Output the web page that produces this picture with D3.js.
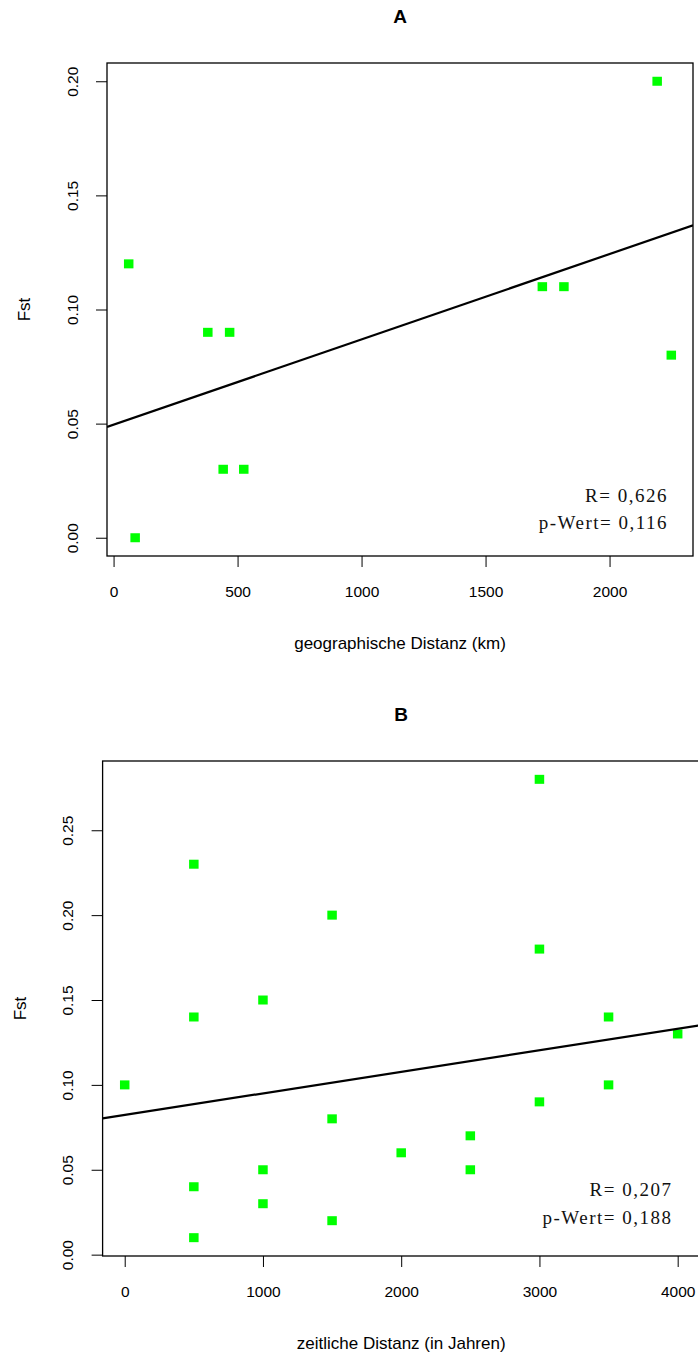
<!DOCTYPE html>
<meta charset="utf-8">
<style>
  body { margin: 0; background: #fff; }
  .tick text { font-family: "Liberation Sans", Arial, sans-serif; font-size: 15.5px; fill: #000; }
  .lab { font-family: "Liberation Sans", Arial, sans-serif; font-size: 17px; fill: #000; }
  .ttl { font-family: "Liberation Sans", Arial, sans-serif; font-size: 19px; font-weight: bold; fill: #000; }
  .stat { font-family: "Liberation Serif", "Times New Roman", serif; font-size: 19px; letter-spacing: 1.5px; fill: #111; }
</style>
<body>
<svg id="chart" width="698" height="1354"></svg>
<script src="https://cdnjs.cloudflare.com/ajax/libs/d3/7.8.5/d3.min.js"></script>
<script>
// panel A: geographische Distanz
var geoDist = [61, 380, 468, 442, 525, 87, 2192, 1729, 1816, 2249];
var geoFst  = [0.12, 0.09, 0.09, 0.03, 0.03, 0.00, 0.20, 0.11, 0.11, 0.08];
var geoFit  = [0.0495, 3.74e-5];            // intercept, slope
var geoXTicks = [0, 500, 1000, 1500, 2000];
var geoYTicks = [0, 0.05, 0.10, 0.15, 0.20];
var geoStats = ["R= 0,626", "p-Wert= 0,116"];

// panel B: zeitliche Distanz
var timeDist = [0, 500, 500, 500, 500, 1000, 1000, 1000, 1500, 1500, 1500, 2000, 2500, 2500, 3000, 3000, 3000, 3500, 3500, 4000];
var timeFst  = [0.10, 0.23, 0.14, 0.04, 0.01, 0.15, 0.05, 0.03, 0.20, 0.08, 0.02, 0.06, 0.07, 0.05, 0.28, 0.18, 0.09, 0.14, 0.10, 0.13];
var timeFit  = [0.0823, 1.27e-5];
var timeXTicks = [0, 1000, 2000, 3000, 4000];
var timeYTicks = [0, 0.05, 0.10, 0.15, 0.20, 0.25];
var timeStats = ["R= 0,207", "p-Wert= 0,188"];

var svg = d3.select("#chart");

// R style range: data extent padded by 4% on each side
function rDomain(v) {
  var e = d3.extent(v), p = (e[1] - e[0]) * 0.04;
  return [e[0] - p, e[1] + p];
}

function panel(o) {
  var x = d3.scaleLinear().domain(rDomain(o.xs)).range([o.left, o.right]);
  var y = d3.scaleLinear().domain(rDomain(o.ys)).range([o.bottom, o.top]);
  var g = svg.append("g");
  var id = "clip" + o.title;

  g.append("clipPath").attr("id", id).append("rect")
    .attr("x", o.left).attr("y", o.top)
    .attr("width", o.right - o.left).attr("height", o.bottom - o.top);

  // points
  g.selectAll(".pt").data(o.xs).enter().append("rect")
    .attr("x", function (d) { return x(d) - 4.75; })
    .attr("y", function (d, i) { return y(o.ys[i]) - 4.5; })
    .attr("width", 9.5).attr("height", 9)
    .attr("fill", "#00ff00");

  // regression line
  var xd = x.domain();
  g.append("line")
    .attr("clip-path", "url(#" + id + ")")
    .attr("x1", x(xd[0])).attr("y1", y(o.fit[0] + o.fit[1] * xd[0]))
    .attr("x2", x(xd[1])).attr("y2", y(o.fit[0] + o.fit[1] * xd[1]))
    .attr("stroke", "#000").attr("stroke-width", 2.2);

  // box
  g.append("rect")
    .attr("x", o.left).attr("y", o.top)
    .attr("width", o.right - o.left).attr("height", o.bottom - o.top)
    .attr("fill", "none").attr("stroke", "#000").attr("stroke-width", 1.3);

  var ax = g.append("g")
    .attr("transform", "translate(0," + o.bottom + ")")
    .call(d3.axisBottom(x).tickValues(o.xt).tickSize(11).tickPadding(19).tickFormat(d3.format("d")));
  ax.select(".domain").remove();

  var ay = g.append("g")
    .attr("transform", "translate(" + o.left + ",0)")
    .call(d3.axisLeft(y).tickValues(o.yt).tickSize(11).tickFormat(d3.format(".2f")));
  ay.select(".domain").remove();
  ay.selectAll(".tick text")
    .attr("x", null).attr("dy", null)
    .attr("text-anchor", "middle")
    .attr("transform", "translate(-29.5,0) rotate(-90)");

  var mx = (o.left + o.right) / 2, my = (o.top + o.bottom) / 2;
  g.append("text").attr("class", "ttl").attr("x", mx).attr("y", o.top - 39.7)
    .attr("text-anchor", "middle").text(o.title);
  g.append("text").attr("class", "lab").attr("x", mx).attr("y", o.bottom + 93)
    .attr("text-anchor", "middle").text(o.xlab);
  g.append("text").attr("class", "lab")
    .attr("transform", "translate(" + (o.left - 77) + "," + my + ") rotate(-90)")
    .attr("text-anchor", "middle").text("Fst");

  g.selectAll(".stat").data(o.stats).enter().append("text")
    .attr("class", "stat")
    .attr("x", o.statX).attr("y", function (d, i) { return o.statY + i * 27.5; })
    .attr("text-anchor", "end").text(function (d) { return d; });
}

panel({ title: "A", xs: geoDist, ys: geoFst, fit: geoFit, xt: geoXTicks, yt: geoYTicks,
  left: 107, right: 693, top: 63, bottom: 556,
  xlab: "geographische Distanz (km)", stats: geoStats, statX: 668, statY: 501.5 });

panel({ title: "B", xs: timeDist, ys: timeFst, fit: timeFit, xt: timeXTicks, yt: timeYTicks,
  left: 102.6, right: 699.8, top: 761, bottom: 1256,
  xlab: "zeitliche Distanz (in Jahren)", stats: timeStats, statX: 672.5, statY: 1196 });
</script>
</body>
